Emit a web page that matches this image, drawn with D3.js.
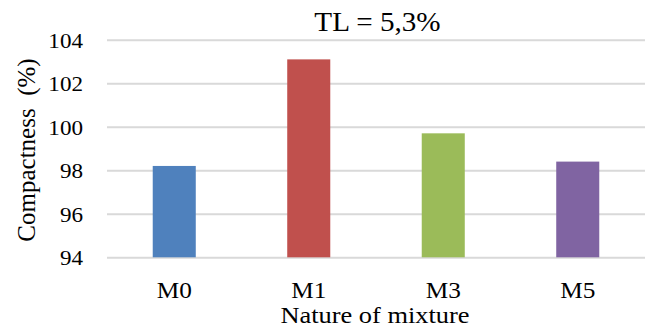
<!DOCTYPE html>
<html>
<head>
<meta charset="utf-8">
<script src="https://cdn.jsdelivr.net/npm/d3@7"></script>
<style>
  html, body { margin: 0; padding: 0; background: #fff; overflow: hidden; }
  svg { display: block; }
  svg text { font-family: "Liberation Serif", "Times New Roman", serif; fill: #000; }
</style>
</head>
<body>
<div id="chart"></div>
<script>
// data
const mixtures = ["M0", "M1", "M3", "M5"]
const compactness = [98.2, 103.1, 99.7, 98.4]
const barColors = ["#4f81bd", "#c0504d", "#9bbb59", "#8064a2"]
const yTicks = [94, 96, 98, 100, 102, 104]
const title = "TL = 5,3%"

const width = 651
const height = 329
const margin = {top: 39.8, right: 6, bottom: 71.7, left: 107}
const innerWidth = width - margin.left - margin.right
const innerHeight = height - margin.top - margin.bottom
const stretch = 1.1 // the original text is a bit wider than plain Times
const serif = '"Liberation Serif", "Times New Roman", serif'

const svg = d3.select('#chart').append("svg")
  .attr("width", width)
  .attr("height", height)
const g = svg.append("g")
  .attr("transform", "translate(" + margin.left + "," + margin.top + ")")

// widen a text a little, like the reference
function widen(sel) {
  sel.each(function() {
    const len = this.getComputedTextLength()
    d3.select(this).attr("textLength", len * stretch).attr("lengthAdjust", "spacingAndGlyphs")
  })
}

const yScale = d3.scaleLinear().domain([94, 104]).range([innerHeight, 0])
const xScale = d3.scaleBand().domain(mixtures).range([0, innerWidth])
  .paddingInner(0.68).paddingOuter(0.34)

// gridlines + y labels
const yAxis = g.append("g")
  .call(d3.axisLeft(yScale).tickValues(yTicks).tickSize(-innerWidth).tickPadding(24).tickFormat(d3.format("d")))
  .attr("font-family", serif)
  .attr("font-size", 21)
yAxis.select(".domain").remove()
yAxis.selectAll(".tick line").attr("stroke", "#d9d9d9").attr("stroke-width", 2)
yAxis.selectAll(".tick text")
  .attr("dy", "0.36em")
  .attr("fill", "#000")
  .call(widen)

// bars
g.selectAll(".bar")
  .data(mixtures)
  .join("rect")
  .attr("class", "bar")
  .attr("x", d => xScale(d))
  .attr("width", xScale.bandwidth())
  .attr("y", (d, i) => yScale(compactness[i]))
  .attr("height", (d, i) => innerHeight - yScale(compactness[i]))
  .attr("fill", (d, i) => barColors[i])

// x labels
const xAxis = g.append("g")
  .attr("transform", "translate(0," + innerHeight + ")")
  .call(d3.axisBottom(xScale).tickSize(0).tickPadding(24))
  .attr("font-family", serif)
  .attr("font-size", 23)
xAxis.select(".domain").remove()
xAxis.selectAll(".tick text")
  .attr("fill", "#000")
  .call(widen)

// titles
svg.append("text")
  .attr("text-anchor", "middle")
  .attr("x", 377.5).attr("y", 31)
  .style("font-size", "26.5px")
  .text(title)
  .call(widen)

svg.append("text")
  .attr("text-anchor", "middle")
  .attr("x", 375).attr("y", 322.5)
  .style("font-size", "24px")
  .text("Nature of mixture")
  .call(widen)

svg.append("text")
  .attr("text-anchor", "middle")
  .attr("transform", "translate(35,150) rotate(-90)")
  .style("font-size", "25px")
  .style("white-space", "pre")
  .text("Compactness  (%)")
</script>
</body>
</html>
